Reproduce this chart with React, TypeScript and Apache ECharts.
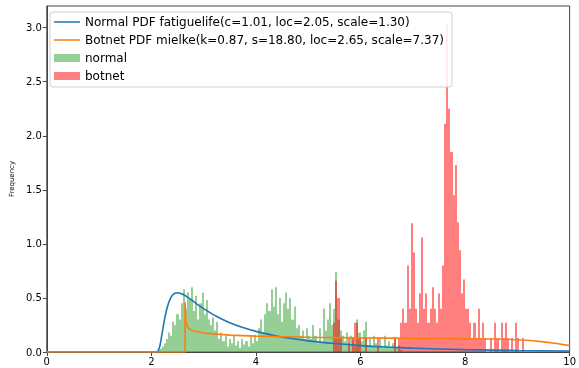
import React, { useEffect, useRef } from "react";
import * as echarts from "echarts";

const BIN = 0.04;
const normalStart = 2.12;
const normalHeights = [
  0.02, 0.03, 0.05, 0.08, 0.12, 0.18, 0.15, 0.28, 0.25, 0.35, 0.3, 0.45, 0.58, 0.4, 0.55, 0.5, 0.6, 0.38, 0.52, 0.3,
  0.45, 0.55, 0.35, 0.48, 0.3, 0.25, 0.32, 0.2, 0.28, 0.12, 0.18, 0.1, 0.15, 0.05, 0.12, 0.08, 0.15, 0.06, 0.1, 0.04,
  0.12, 0.07, 0.1, 0.05, 0.14, 0.08, 0.16, 0.1, 0.22, 0.3, 0.18, 0.35, 0.45, 0.38, 0.58, 0.42, 0.6, 0.35, 0.5, 0.28,
  0.45, 0.55, 0.4, 0.5, 0.3, 0.42, 0.22, 0.25, 0.15, 0.2, 0.12, 0.22, 0.15, 0.12, 0.25, 0.15, 0.08, 0.22, 0.1, 0.4,
  0.2, 0.3, 0.45, 0.25, 0.4, 0.74, 0.3, 0.2, 0.15, 0.1, 0.18, 0.08, 0.15, 0.12, 0.05, 0.3, 0.18, 0.1, 0.2, 0.28,
  0.06, 0.12, 0.05, 0.15, 0.08, 0.05, 0.12, 0.04, 0.15, 0.06, 0.1, 0.04, 0.08, 0.14, 0.04, 0.06, 0.02,
];
const botnetStart = 5.48;
const botnetHeights = [
  0.27, 0.66, 0.5, 0.13, 0, 0, 0, 0.13, 0, 0.13, 0.27, 0.27, 0.13, 0, 0, 0.13, 0, 0, 0, 0,
  0, 0.13, 0, 0, 0, 0, 0, 0, 0, 0.13, 0, 0.13, 0.27, 0.4, 0.27, 0.8, 0.4, 1.19, 0.92, 0.4,
  0.27, 0.54, 1.06, 0.4, 0.54, 0.27, 0.4, 0.6, 0.4, 0.27, 0.54, 0.4, 0.8, 2.11, 3.04, 2.25, 1.85, 1.45, 1.73, 1.2,
  0.94, 0.54, 0.67, 0.4, 0.4, 0.27, 0.13, 0.27, 0.13, 0.4, 0.13, 0.27, 0.13, 0, 0, 0.13, 0, 0.27, 0.13, 0,
  0.27, 0.13, 0.27, 0.13, 0, 0.13, 0, 0.27, 0.13, 0, 0.13,
];
const normalPdfX = [0, 2.05, 2.1, 2.15, 2.2, 2.25, 2.3, 2.35, 2.4, 2.45, 2.5, 2.55, 2.6, 2.7, 2.8, 2.9, 3.0, 3.25, 3.5, 3.75, 4.0, 4.5, 5.0, 5.5, 6.0, 6.5, 7.0, 8.0, 9.0, 10.0];
const normalPdfY = [0, 0, 0.0002, 0.034, 0.156, 0.297, 0.407, 0.48, 0.522, 0.543, 0.548, 0.544, 0.534, 0.505, 0.47, 0.434, 0.401, 0.328, 0.271, 0.226, 0.191, 0.138, 0.103, 0.078, 0.059, 0.046, 0.036, 0.022, 0.014, 0.009];
const botnetPdfX = [0, 2.645, 2.6452, 2.66, 2.7, 2.75, 2.8, 3.0, 3.5, 4.0, 5.0, 6.0, 7.0, 8.0, 8.5, 9.0, 9.25, 9.5, 9.75, 10.0];
const botnetPdfY = [0, 0, 0.46, 0.279, 0.226, 0.207, 0.196, 0.175, 0.156, 0.147, 0.137, 0.131, 0.126, 0.123, 0.12, 0.113, 0.106, 0.094, 0.078, 0.059];
const xTicks = [0, 2, 4, 6, 8, 10];
const yTicks = [0, 0.5, 1.0, 1.5, 2.0, 2.5, 3.0];

const NAME_N = "Normal PDF fatiguelife(c=1.01, loc=2.05, scale=1.30)";
const NAME_B = "Botnet PDF mielke(k=0.87, s=18.80, loc=2.65, scale=7.37)";

function histSeries(name: string, start: number, heights: number[], color: string) {
  return {
    name,
    type: "custom",
    z: 1,
    clip: true,
    itemStyle: { color },
    encode: { x: 0, y: 1 },
    data: heights.map((h, i) => [start + i * BIN, h]),
    renderItem: (_p: any, api: any) => {
      const x0 = api.value(0);
      const h = api.value(1);
      if (!h) return null;
      const a = api.coord([x0, h]);
      const b = api.coord([x0 + BIN, 0]);
      const xa = Math.round(a[0]);
      const xb = Math.round(b[0]);
      return {
        type: "rect",
        shape: { x: xa, y: a[1], width: xb - xa, height: b[1] - a[1] },
        style: { fill: color },
      };
    },
  };
}

export default function App() {
  const ref = useRef<HTMLDivElement>(null);
  useEffect(() => {
    const chart = echarts.init(ref.current!, null, { renderer: "svg" });
    const font = "DejaVu Sans";
    chart.setOption({
      animation: false,
      grid: { left: 44, right: 2, top: 6, bottom: 16, show: true, borderColor: "#444", borderWidth: 1 },
      legend: {
        orient: "vertical",
        left: 50,
        top: 12,
        padding: [4, 8, 5, 4],
        itemGap: 6,
        itemWidth: 26,
        itemHeight: 8,
        backgroundColor: "rgba(255,255,255,0.85)",
        borderColor: "#d0d0d0",
        borderWidth: 1,
        borderRadius: 3,
        textStyle: { fontFamily: font, fontSize: 12, color: "#000" },
        data: [
          { name: NAME_N, icon: "path://M0,0 L26,0 L26,1.5 L0,1.5 Z", itemStyle: { color: "#1f77b4" } },
          { name: NAME_B, icon: "path://M0,0 L26,0 L26,1.5 L0,1.5 Z", itemStyle: { color: "#ff7f0e" } },
          { name: "normal", icon: "rect", itemStyle: { color: "#96cf96" } },
          { name: "botnet", icon: "rect", itemStyle: { color: "#ff8080" } },
        ],
      },
      xAxis: {
        type: "value",
        min: xTicks[0],
        max: xTicks[xTicks.length - 1],
        interval: 2,
        splitLine: { show: false },
        axisLine: { lineStyle: { color: "#444" } },
        axisTick: { length: 4, lineStyle: { color: "#444" } },
        axisLabel: { fontFamily: font, fontSize: 10, color: "#000", margin: 4 },
      },
      yAxis: {
        type: "value",
        min: 0,
        max: 3.2,
        interval: 0.5,
        name: "Frequency",
        nameLocation: "middle",
        nameGap: 29,
        nameTextStyle: { fontFamily: font, fontSize: 7, color: "#000" },
        splitLine: { show: false },
        axisLine: { show: true, lineStyle: { color: "#444" } },
        axisTick: { show: true, length: 4, lineStyle: { color: "#444" } },
        axisLabel: {
          fontFamily: font,
          fontSize: 10,
          color: "#000",
          margin: 5,
          showMaxLabel: false,
          formatter: (v: number) => (yTicks.some((t) => Math.abs(t - v) < 1e-6) ? v.toFixed(1) : ""),
        },
      },
      series: [
        histSeries("normal", normalStart, normalHeights, "rgba(44,160,44,0.5)"),
        histSeries("botnet", botnetStart, botnetHeights, "rgba(255,0,0,0.5)"),
        {
          name: NAME_N,
          type: "line",
          z: 3,
          symbol: "none",
          smooth: 0.3,
          lineStyle: { color: "#1f77b4", width: 1.6 },
          itemStyle: { color: "#1f77b4" },
          data: normalPdfX.map((x, i) => [x, normalPdfY[i]]),
        },
        {
          name: NAME_B,
          type: "line",
          z: 4,
          symbol: "none",
          lineStyle: { color: "#ff7f0e", width: 1.6 },
          itemStyle: { color: "#ff7f0e" },
          data: botnetPdfX.map((x, i) => [x, botnetPdfY[i]]),
        },
      ],
    });
    return () => chart.dispose();
  }, []);
  return <div ref={ref} style={{ position: "fixed", left: 0, top: 0, width: 579, height: 368 }} />;
}
